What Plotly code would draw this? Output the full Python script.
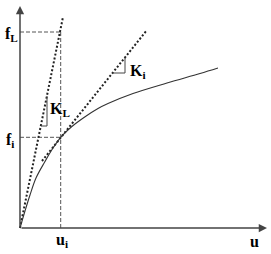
import plotly.graph_objects as go

# curve (u, f) (pixel-like units relative to origin)
curve_u = [0, 5, 10, 16, 24.7, 33, 40.7, 51.3, 64.7, 78, 88, 113, 147, 180, 198]
curve_f = [0, 17, 33, 50, 66, 80, 90.7, 101, 111, 119.5, 124.5, 134.5, 145, 154.5, 160]

# secant K_L line
kl_u = [0, 43]
kl_f = [0, 211]
# tangent K_i line
ki_u = [22, 127]
ki_f = [67, 198]

u_i = 40.7
f_i = 90.7
f_L = 196

# slope triangles
tri_L_u = [21, 27, 27]
tri_L_f = [102, 102, 132]
tri_i_u = [92.5, 105, 105]
tri_i_f = [155, 155, 170.5]

fig = go.Figure()

dash_style = dict(color="#555555", width=1, dash="4px,2px")
fig.add_trace(go.Scatter(x=[0, u_i], y=[f_L, f_L], mode="lines", line=dash_style))
fig.add_trace(go.Scatter(x=[0, u_i], y=[f_i, f_i], mode="lines", line=dash_style))
fig.add_trace(go.Scatter(x=[u_i, u_i], y=[0, f_L], mode="lines", line=dash_style))

dot_style = dict(color="#222222", width=2, dash="2px,2px")
fig.add_trace(go.Scatter(x=kl_u, y=kl_f, mode="lines", line=dot_style))
fig.add_trace(go.Scatter(x=ki_u, y=ki_f, mode="lines", line=dot_style))

fig.add_trace(go.Scatter(x=curve_u, y=curve_f, mode="lines", line_shape="spline",
                         line=dict(color="#333333", width=1.1)))

tri_style = dict(color="#444444", width=1)
fig.add_trace(go.Scatter(x=tri_L_u, y=tri_L_f, mode="lines", line=tri_style))
fig.add_trace(go.Scatter(x=tri_i_u, y=tri_i_f, mode="lines", line=tri_style))

# axes with arrows
axis_kw = dict(showarrow=True, arrowhead=2, arrowsize=1.1, arrowwidth=1.5,
               arrowcolor="#444444", axref="x", ayref="y", ax=0, ay=0, text="")
fig.add_annotation(x=247, y=0, **axis_kw)
fig.add_annotation(x=0, y=222, **axis_kw)

font = dict(family="Liberation Serif, Times New Roman, serif", size=16, color="black")
labels = [
    ("<b>f</b><sub><b>L</b></sub>", -8.3, 194),
    ("<b>f</b><sub><b>i</b></sub>", -10.5, 88),
    ("<b>u</b><sub><b>i</b></sub>", 41.5, -12),
    ("<b>u</b>", 234, -13),
    ("<b>K</b><sub><b>L</b></sub>", 39.5, 119),
    ("<b>K</b><sub><b>i</b></sub>", 117.5, 156.5),
]
for t, x, y in labels:
    fig.add_annotation(x=x, y=y, text=t, showarrow=False, font=font,
                       xanchor="center", yanchor="middle")

fig.update_layout(
    width=271, height=254,
    margin=dict(l=0, r=0, t=0, b=0),
    paper_bgcolor="white", plot_bgcolor="white",
    showlegend=False,
    xaxis=dict(range=[-20, 251], visible=False, fixedrange=True),
    yaxis=dict(range=[-26, 228], visible=False, fixedrange=True),
)

fig.write_html("out.html")
